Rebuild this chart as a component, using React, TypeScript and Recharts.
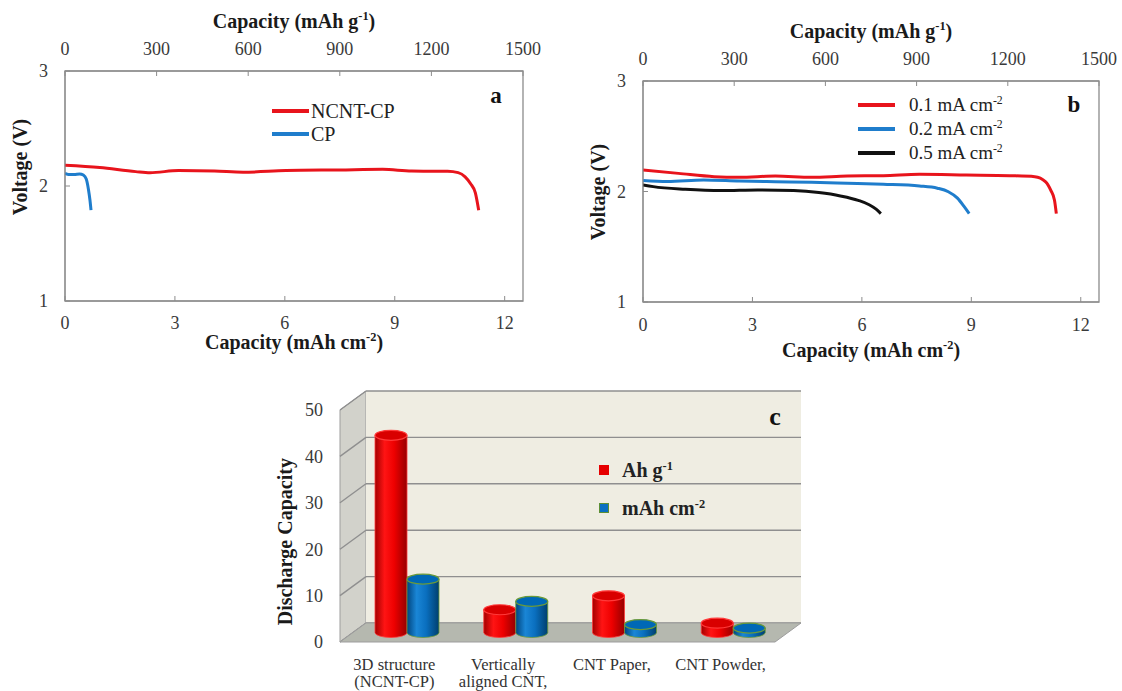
import React from 'react'
import { LineChart, Line, BarChart, Bar, XAxis, YAxis, ReferenceArea, Legend } from 'recharts'

// ---- panel a / b : discharge curves (capacity in mAh cm-2, voltage in V) ----
const ncntCapA = [0, 0.95, 1.93, 2.32, 3.1, 4.08, 4.86, 6.03, 7.5, 8.67, 9.46, 10.44, 10.73, 10.92, 11.07, 11.2, 11.29]
const ncntVoltA = [2.18, 2.16, 2.125, 2.116, 2.134, 2.13, 2.12, 2.134, 2.14, 2.145, 2.13, 2.128, 2.116, 2.08, 2.02, 1.94, 1.79]
const cpCapA = [0, 0.1, 0.25, 0.4, 0.5, 0.58, 0.64, 0.68, 0.71]
const cpVoltA = [2.11, 2.1, 2.1, 2.105, 2.095, 2.06, 1.97, 1.88, 1.79]

const r01Cap = [0, 0.97, 1.95, 2.64, 3.63, 4.62, 5.6, 6.59, 7.58, 8.86, 10.05, 10.74, 11.03, 11.18, 11.28, 11.33]
const r01Volt = [2.194, 2.164, 2.134, 2.128, 2.14, 2.128, 2.14, 2.143, 2.155, 2.149, 2.143, 2.134, 2.09, 2.01, 1.92, 1.8]
const r02Cap = [0, 0.67, 1.66, 2.64, 3.63, 4.62, 5.6, 6.59, 7.58, 8.07, 8.37, 8.62, 8.81, 8.94]
const r02Volt = [2.1, 2.09, 2.104, 2.095, 2.089, 2.083, 2.074, 2.065, 2.05, 2.03, 1.998, 1.94, 1.86, 1.8]
const r05Cap = [0, 0.28, 1.16, 2.15, 3.14, 4.13, 4.82, 5.41, 5.9, 6.2, 6.39, 6.52]
const r05Volt = [2.06, 2.044, 2.02, 2.008, 2.014, 2.008, 1.99, 1.96, 1.92, 1.88, 1.84, 1.8]

const cmTicks = [0, 3, 6, 9, 12]
const gTicks = [0, 300, 600, 900, 1200, 1500]
const voltTicks = [1, 2, 3]

// ---- panel c : discharge capacity comparison ----
const categoriesC = ['3D structure (NCNT-CP)', 'Vertically aligned CNT,', 'CNT Paper,', 'CNT Powder,']
const categoryLinesC = [['3D structure', '(NCNT-CP)'], ['Vertically', 'aligned CNT,'], ['CNT Paper,'], ['CNT Powder,']]
const ahPerG = [42.5, 4.9, 7.9, 2.0]
const mAhPerCm2 = [11.5, 6.7, 1.7, 0.95]
const capTicksC = [0, 10, 20, 30, 40, 50]

const zip = (c: number[], v: number[]) => c.map((x, i) => ({ c: x, v: v[i] }))
// keeps the top (mAh g-1) axis alive, draws nothing
const topAnchor = gTicks.map(g => ({ g, v: 2 }))
const tableC = categoriesC.map((name, i) => ({ name, ah: ahPerG[i], mah: mAhPerCm2[i] }))

const SERIF = '"Liberation Serif", "Times New Roman", serif'
const BOX = '#8c8c8c'
const RED = '#e8141c'
const BLUE = '#1f7dcc'
const BLACK = '#111111'
const tickStyle = { fontSize: 18, fill: '#3a3a3a', fontFamily: SERIF }

// text with {superscript} parts
const SvgRich = ({ x, y, text, size = 20, rotate = false }: any) => {
  const segs = text.split(/\{([^}]*)\}/)
  const shift = size * 0.4
  return (
    <text x={x} y={y} textAnchor="middle" dominantBaseline={rotate ? 'central' : undefined}
      transform={rotate ? `rotate(-90 ${x} ${y})` : undefined}
      fontFamily={SERIF} fontSize={size} fontWeight={700} fill="#1a1a1a">
      {segs.map((s: string, i: number) => i % 2
        ? <tspan key={i} dy={-shift} fontSize={size * 0.62}>{s}</tspan>
        : <tspan key={i} dy={i ? shift : 0}>{s}</tspan>)}
    </text>
  )
}
const HtmlRich = ({ text }: { text: string }) => (
  <>{text.split(/\{([^}]*)\}/).map((s, i) => i % 2
    ? <span key={i} style={{ fontSize: '0.62em', position: 'relative', top: '-0.6em' }}>{s}</span>
    : <span key={i}>{s}</span>)}</>
)
const title = (x: number, y: number, text: string, rotate = false) => ({
  content: () => <SvgRich x={x} y={y} text={text} rotate={rotate} />,
})

const lineLegend = (order: string[], gap: number, size: number, rowH: number) => (props: any) => {
  const items = (props.payload || []).filter((a: any) => order.includes(a.value))
    .sort((a: any, b: any) => order.indexOf(a.value) - order.indexOf(b.value))
  return (
    <div>
      {items.map((it: any) => (
        <div key={it.value} style={{ display: 'flex', alignItems: 'center', height: rowH }}>
          <svg width={37} height={6}><line x1={0} x2={37} y1={3} y2={3} stroke={it.color} strokeWidth={4} /></svg>
          <span style={{ marginLeft: gap, fontFamily: SERIF, fontSize: size, color: '#222', lineHeight: 1 }}>
            <HtmlRich text={it.value} />
          </span>
        </div>
      ))}
    </div>
  )
}

const Letter = ({ x, y, t, size }: any) => (
  <div style={{ position: 'absolute', left: x, top: y, transform: 'translate(-50%, -50%)', fontFamily: SERIF, fontWeight: 700, fontSize: size, lineHeight: 1, color: '#111' }}>{t}</div>
)

const namesA = ['NCNT-CP', 'CP']
const namesB = ['0.1 mA cm{-2}', '0.2 mA cm{-2}', '0.5 mA cm{-2}']
const namesC = ['Ah g{-1}', 'mAh cm{-2}']

const curveAxes = (topTitle: [number, number], botTitle: [number, number], yTitle: [number, number], botMargin: number, botH: number) => [
  <XAxis key="t" xAxisId="top" orientation="top" dataKey="g" type="number" domain={[0, 1500]} ticks={gTicks} allowDataOverflow
    height={60} tickSize={-5} tickMargin={21} tick={tickStyle} stroke={BOX} label={title(topTitle[0], topTitle[1], 'Capacity (mAh g{-1})')} />,
  <XAxis key="b" xAxisId="bottom" dataKey="c" type="number" domain={[0, 12.5]} ticks={cmTicks} allowDataOverflow
    height={botH} tickSize={-5} tickMargin={botMargin} tick={tickStyle} stroke={BOX} label={title(botTitle[0], botTitle[1], 'Capacity (mAh cm{-2})')} />,
  <YAxis key="y" yAxisId="v" type="number" domain={[1, 3]} ticks={voltTicks} allowDataOverflow
    width={50} tickSize={-5} tickMargin={22} tick={tickStyle} stroke={BOX} label={title(yTitle[0], yTitle[1], 'Voltage (V)', true)} />,
  <ReferenceArea key="box" xAxisId="bottom" yAxisId="v" x1={0} x2={12.5} y1={1} y2={3} fill="none" stroke={BOX} strokeWidth={1.3} />,
  <Line key="anchor" xAxisId="top" yAxisId="v" data={topAnchor} dataKey="v" stroke="none" dot={false} activeDot={false} legendType="none" isAnimationActive={false} />,
]

// ---- 3D look for panel c ----
const DX = 26
const DY = -19
const Walls = (p: any) => {
  const { x, y, width: w, height: h } = p
  const bx = x + DX
  const by = y + DY
  return (
    <g>
      <polygon points={`${x},${y} ${bx},${by} ${bx},${by + h} ${x},${y + h}`} fill="#d2d2cb" stroke="#9d9d9d" />
      <rect x={bx} y={by} width={w} height={h} fill="#efede2" />
      {capTicksC.map(v => {
        const yy = y + h * (1 - v / 50)
        return (
          <g key={v}>
            <line x1={x} y1={yy} x2={bx} y2={yy + DY} stroke="#8f8f8f" strokeWidth={1.4} />
            <line x1={bx} y1={yy + DY} x2={bx + w} y2={yy + DY} stroke="#8f8f8f" strokeWidth={1.4} />
          </g>
        )
      })}
      <polygon points={`${x},${y + h} ${bx},${by + h} ${bx + w},${by + h} ${x + w},${y + h}`} fill="#b5b8af" stroke="#9d9d9d" />
    </g>
  )
}
const cylinder = (grad: string, top: string, edge: string) => (p: any) => {
  const x = p.x + DX / 2
  const y = p.y + DY / 2
  const w = p.width
  const h = p.height
  const rx = w / 2
  const ry = 5
  const d = `M${x},${y} L${x},${y + h} A${rx},${ry} 0 0 0 ${x + w},${y + h} L${x + w},${y} Z`
  return (
    <g>
      <path d={d} fill={`url(#${grad})`} stroke={edge} strokeWidth={0.8} />
      <ellipse cx={x + rx} cy={y} rx={rx} ry={ry} fill={top} stroke={edge} strokeWidth={1.2} />
    </g>
  )
}
const CatTick = (p: any) => {
  const lines = categoryLinesC[p.index] || []
  return (
    <g>
      {lines.map((l, i) => (
        <text key={i} x={p.x} y={p.y + 20 + i * 17} textAnchor="middle" fontFamily={SERIF} fontSize={16.5} fill="#333">{l}</text>
      ))}
    </g>
  )
}
const barLegend = (props: any) => {
  const items = (props.payload || []).filter((a: any) => namesC.includes(a.value))
    .sort((a: any, b: any) => namesC.indexOf(a.value) - namesC.indexOf(b.value))
  return (
    <div>
      {items.map((it: any) => (
        <div key={it.value} style={{ display: 'flex', alignItems: 'center', height: 38 }}>
          <div style={{ width: 10, height: 10, background: it.color, border: it.value === namesC[1] ? '1px solid #5d8f35' : 'none', boxSizing: 'border-box' }} />
          <span style={{ marginLeft: 13, fontFamily: SERIF, fontWeight: 700, fontSize: 20, color: '#222', lineHeight: 1 }}>
            <HtmlRich text={it.value} />
          </span>
        </div>
      ))}
    </div>
  )
}

const App: React.FC = () => {
  return (
    <div style={{ position: 'absolute', left: 0, top: 0, width: 1122, height: 691, background: '#fff', overflow: 'hidden' }}>
      <svg width={0} height={0} style={{ position: 'absolute' }}>
        <defs>
          <linearGradient id="cylRed" x1="0" y1="0" x2="1" y2="0">
            <stop offset="0%" stopColor="#a30000" />
            <stop offset="30%" stopColor="#ff1414" />
            <stop offset="60%" stopColor="#ee0000" />
            <stop offset="100%" stopColor="#960000" />
          </linearGradient>
          <linearGradient id="cylBlue" x1="0" y1="0" x2="1" y2="0">
            <stop offset="0%" stopColor="#00457e" />
            <stop offset="30%" stopColor="#1a86d6" />
            <stop offset="60%" stopColor="#0a6fbf" />
            <stop offset="100%" stopColor="#003f6e" />
          </linearGradient>
        </defs>
      </svg>

      {/* panel a */}
      <div style={{ position: 'absolute', left: 0, top: 0 }}>
        <LineChart width={560} height={360} margin={{ top: 11, right: 37, bottom: 9, left: 15 }}>
          {curveAxes([294, 28], [294, 349], [19.6, 167], 20, 50)}
          <Line xAxisId="bottom" yAxisId="v" data={zip(ncntCapA, ncntVoltA)} dataKey="v" name={namesA[0]} type="monotone" stroke={RED} strokeWidth={3} dot={false} isAnimationActive={false} />
          <Line xAxisId="bottom" yAxisId="v" data={zip(cpCapA, cpVoltA)} dataKey="v" name={namesA[1]} type="monotone" stroke={BLUE} strokeWidth={3} dot={false} isAnimationActive={false} />
          <Legend layout="vertical" align="center" verticalAlign="middle" wrapperStyle={{ left: 272, top: 99, width: 200 }} content={lineLegend(namesA, 2, 20, 23.3)} />
        </LineChart>
        <Letter x={496} y={95} t="a" size={23} />
      </div>

      {/* panel b */}
      <div style={{ position: 'absolute', left: 560, top: 0 }}>
        <LineChart width={562} height={370} margin={{ top: 21, right: 23, bottom: 13, left: 33 }}>
          {curveAxes([311, 38], [311, 357], [37.6, 192], 21, 55)}
          <Line xAxisId="bottom" yAxisId="v" data={zip(r01Cap, r01Volt)} dataKey="v" name={namesB[0]} type="monotone" stroke={RED} strokeWidth={3} dot={false} isAnimationActive={false} />
          <Line xAxisId="bottom" yAxisId="v" data={zip(r02Cap, r02Volt)} dataKey="v" name={namesB[1]} type="monotone" stroke={BLUE} strokeWidth={3} dot={false} isAnimationActive={false} />
          <Line xAxisId="bottom" yAxisId="v" data={zip(r05Cap, r05Volt)} dataKey="v" name={namesB[2]} type="monotone" stroke={BLACK} strokeWidth={3} dot={false} isAnimationActive={false} />
          <Legend layout="vertical" align="center" verticalAlign="middle" wrapperStyle={{ left: 298, top: 93, width: 220 }} content={lineLegend(namesB, 14, 19, 23.85)} />
        </LineChart>
        <Letter x={514} y={104} t="b" size={23} />
      </div>

      {/* panel c */}
      <div style={{ position: 'absolute', left: 270, top: 380 }}>
        <BarChart width={540} height={311} data={tableC} margin={{ top: 30, right: 35, bottom: 4, left: 20 }} barSize={32} barGap={0}>
          <ReferenceArea y1={0} y2={50} shape={Walls} ifOverflow="visible" />
          <XAxis dataKey="name" height={45} axisLine={false} tickLine={false} interval={0} tick={(p: any) => <CatTick {...p} />} />
          <YAxis type="number" domain={[0, 50]} ticks={capTicksC} width={50} axisLine={false} tickLine={false} tickMargin={11}
            tick={tickStyle} label={title(15, 161.7, 'Discharge Capacity', true)} />
          <Bar dataKey="ah" name={namesC[0]} fill="#e60000" shape={cylinder('cylRed', '#d90000', '#ff3a3a')} isAnimationActive={false} />
          <Bar dataKey="mah" name={namesC[1]} fill="#0a6fc2" shape={cylinder('cylBlue', '#0068b6', '#6a9a3a')} isAnimationActive={false} />
          <Legend layout="vertical" align="center" verticalAlign="middle" wrapperStyle={{ left: 329, top: 71, width: 200 }} content={barLegend} />
        </BarChart>
        <Letter x={505} y={37} t="c" size={26} />
      </div>
    </div>
  )
}

export default App
